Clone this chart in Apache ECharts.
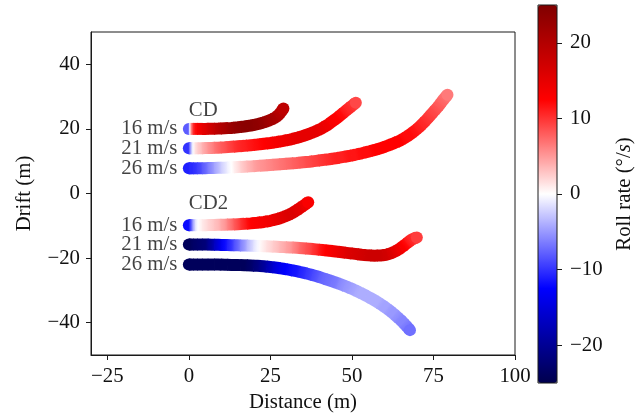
<!DOCTYPE html>
<html><head><meta charset="utf-8">
<script src="https://cdn.jsdelivr.net/npm/echarts@6/dist/echarts.min.js"></script>
<style>html,body{margin:0;padding:0;background:#fff}#c{width:644px;height:418px}</style>
</head><body><div id="c"></div>
<script>
// ---- data (distance m, drift m, roll rate deg/s) ----
const cd16X = [0, 0.4, 1, 2, 3.5, 5, 7, 9, 11, 13, 15, 17, 19, 21, 22.5, 24, 25.3, 26.5, 27.5, 28.3, 29];
const cd16Y = [20, 20, 20, 20, 20, 20, 20.05, 20.1, 20.2, 20.3, 20.5, 20.75, 21.05, 21.45, 21.85, 22.35, 22.9, 23.5, 24.3, 25.3, 26.3];
const cd16R = [-8, 0, 8, 12, 14, 15.5, 17.5, 19.5, 21, 22.5, 23.5, 24, 24, 23.5, 23, 22, 21.5, 21, 20, 19.5, 19];

const cd21X = [0, 0.5, 1, 1.6, 2.4, 3.5, 5, 7, 9, 11, 13, 15, 17, 19, 21, 23, 25, 27, 29, 31, 33, 35, 37, 39, 40.8, 42.5, 44, 45.5, 46.8, 48, 49.1, 50.2, 51.2];
const cd21Y = [14, 14, 14, 14, 14, 14, 14.05, 14.1, 14.2, 14.3, 14.45, 14.6, 14.75, 14.95, 15.15, 15.4, 15.65, 15.95, 16.3, 16.7, 17.2, 17.8, 18.5, 19.3, 20.2, 21.2, 22.3, 23.4, 24.5, 25.5, 26.4, 27.3, 28.1];
const cd21R = [-10, -6, -2, 0.5, 2, 3, 4.5, 6, 7.5, 8.5, 9.5, 10.5, 11, 11.5, 12, 12.5, 13, 13.5, 14, 14.5, 15, 15, 15, 15, 14.5, 14, 13, 12.5, 12, 11, 10.5, 10, 9];

const cd26X = [0, 0.5, 1, 2, 3.5, 5, 7, 9, 11, 13, 15, 17, 19, 21, 23, 25, 27, 29, 31, 33, 35, 37, 39, 41, 43, 45, 47, 49, 51, 53, 55, 57, 59, 61, 63, 64.8, 66.5, 68, 69.4, 70.7, 71.9, 73, 74, 75, 76, 76.9, 77.7, 78.5, 79.3];
const cd26Y = [7.8, 7.8, 7.8, 7.8, 7.8, 7.85, 7.9, 7.95, 8.0, 8.1, 8.2, 8.3, 8.4, 8.55, 8.7, 8.85, 9.0, 9.15, 9.3, 9.45, 9.65, 9.85, 10.1, 10.35, 10.6, 10.9, 11.25, 11.6, 12.0, 12.45, 12.95, 13.5, 14.1, 14.8, 15.6, 16.4, 17.4, 18.4, 19.5, 20.6, 21.8, 23.0, 24.1, 25.3, 26.4, 27.5, 28.6, 29.6, 30.6];
const cd26R = [-11, -10.5, -10.5, -10, -9, -7.5, -5.5, -3.5, -1.5, 0, 1.5, 3, 4, 5, 5.5, 6, 6.5, 7, 7.5, 8, 8.5, 9, 9.5, 10, 10.5, 11, 11, 11.5, 11.5, 12, 12, 12.5, 12.5, 12.5, 12.5, 12.5, 12, 12, 11.5, 11, 10.5, 10, 9.5, 9, 8.5, 8, 7.5, 7, 6.5];

const cd2_16X = [0, 0.5, 1, 1.7, 2.5, 3.5, 5, 7, 9, 11, 13, 15, 17, 19, 21, 23, 25, 27, 28.8, 30.4, 31.8, 33, 34.1, 35.5, 36.6];
const cd2_16Y = [-9.8, -9.8, -9.8, -9.8, -9.8, -9.8, -9.8, -9.75, -9.7, -9.65, -9.6, -9.5, -9.4, -9.25, -9.05, -8.8, -8.45, -7.95, -7.35, -6.7, -6.0, -5.25, -4.5, -3.5, -2.7];
const cd2_16R = [-12, -10, -7, -3, -0.5, 0.5, 1.5, 2.5, 3.5, 5, 7, 9, 11, 12.5, 13, 13.5, 14, 15, 15.5, 16, 16, 15.5, 15, 14, 13];

const cd2_21X = [0, 0.5, 1, 2, 3.5, 5, 7, 9, 11, 13, 15, 17, 19, 21, 23, 25, 27, 29, 31, 33, 35, 37, 39, 41, 43, 45, 47, 49, 51, 53, 55, 57, 58.8, 60.5, 62, 63.3, 64.5, 65.6, 66.6, 67.5, 68.3, 69.1, 69.9];
const cd2_21Y = [-15.8, -15.8, -15.8, -15.8, -15.8, -15.8, -15.85, -15.9, -15.95, -16.0, -16.05, -16.1, -16.15, -16.25, -16.3, -16.4, -16.5, -16.6, -16.7, -16.8, -16.95, -17.1, -17.3, -17.5, -17.7, -17.95, -18.2, -18.45, -18.7, -18.95, -19.15, -19.25, -19.2, -18.95, -18.5, -17.9, -17.2, -16.4, -15.6, -14.9, -14.3, -13.9, -13.6];
const cd2_21R = [-24, -24, -23.5, -23, -22.5, -22, -19, -15, -12, -10, -7.5, -5, -2.5, -0.5, 1, 2, 3, 4, 5, 6.5, 8, 9, 10.5, 12, 13, 14, 15, 16, 16.5, 17, 17.5, 17.5, 17.5, 17, 16, 15, 14, 13, 12, 11, 10.5, 10, 9.5];

const cd2_26X = [0, 0.5, 1, 2, 3.5, 5, 7, 9, 11, 13, 15, 17, 19, 21, 23, 25, 27, 29, 31, 33, 35, 37, 39, 41, 43, 45, 47, 48.8, 50.5, 52.1, 53.7, 55.2, 56.6, 58, 59.3, 60.5, 61.7, 62.8, 63.8, 64.8, 65.7, 66.5, 67.2, 67.8];
const cd2_26Y = [-22, -22, -22, -22, -22, -22, -22, -22, -22.05, -22.1, -22.15, -22.2, -22.3, -22.4, -22.55, -22.75, -23.0, -23.3, -23.65, -24.05, -24.5, -25.0, -25.55, -26.2, -26.85, -27.55, -28.3, -29.0, -29.75, -30.5, -31.3, -32.1, -32.9, -33.75, -34.6, -35.45, -36.35, -37.25, -38.15, -39.05, -39.95, -40.8, -41.6, -42.3];
const cd2_26R = [-24, -24, -24, -24, -24, -24, -24, -24, -24, -24, -24, -24, -23, -21.5, -19.5, -17, -14.5, -13, -12, -11.5, -10.5, -9.5, -8.5, -7.5, -7, -6.5, -5.5, -5, -4.5, -4, -4, -4, -4, -4, -4.5, -4.5, -5, -5, -5.5, -6, -6, -6.5, -7, -7];

const speedLabels = ['16 m/s', '21 m/s', '26 m/s', '16 m/s', '21 m/s', '26 m/s'];
const xTicks = [-25, 0, 25, 50, 75, 100];
const yTicks = [-40, -20, 0, 20, 40];
const cbTicks = [-20, -10, 0, 10, 20];
const rollRange = [-25, 25];

const tracks = [
  [cd16X, cd16Y, cd16R], [cd21X, cd21Y, cd21R], [cd26X, cd26Y, cd26R],
  [cd2_16X, cd2_16Y, cd2_16R], [cd2_21X, cd2_21Y, cd2_21R], [cd2_26X, cd2_26Y, cd2_26R]
];

const FONT = "'Liberation Serif','Times New Roman',serif";
const FS = 20.8;
const TXT = '#111';
const BAND = 12;
const SEISMIC = ['#00004d', '#0000ff', '#ffffff', '#ff0000', '#800000'];
const minus = v => String(v).replace('-', '\u2212');

const chart = echarts.init(document.getElementById('c'), null, {renderer: 'canvas'});

// same colour scale as the visualMap, used to blend towards the neighbouring points
const cmap = v => echarts.color.lerp(
  Math.max(0, Math.min(1, (v - rollRange[0]) / (rollRange[1] - rollRange[0]))), SEISMIC);

function extend(p, q, ext) {
  const dx = q[0] - p[0], dy = q[1] - p[1];
  const L = Math.hypot(dx, dy);
  if (L < 1e-6) return q;
  return [q[0] + dx / L * ext, q[1] + dy / L * ext];
}

const trackSeries = tracks.map(t => ({
  type: 'custom', xAxisIndex: 0, yAxisIndex: 0, silent: true, clip: false,
  dimensions: ['x', 'y', 'roll'],
  encode: {x: 0, y: 1},
  data: t[0].map((x, i) => [x, t[1][i], t[2][i]]),
  renderItem: (params, api) => {
    const i = params.dataIndex, n = t[0].length;
    const color = api.visual('color');
    const r = t[2][i];
    const p = api.coord([t[0][i], t[1][i]]);
    let a = p, b = p, ca = color, cb = color;
    if (i > 0) {
      const pv = api.coord([t[0][i - 1], t[1][i - 1]]);
      a = extend(p, [(pv[0] + p[0]) / 2, (pv[1] + p[1]) / 2], 0.8);
      ca = cmap((t[2][i - 1] + r) / 2);
    }
    if (i < n - 1) {
      const nx = api.coord([t[0][i + 1], t[1][i + 1]]);
      b = [(nx[0] + p[0]) / 2, (nx[1] + p[1]) / 2];
      cb = cmap((t[2][i + 1] + r) / 2);
    }
    const children = [];
    const dx = b[0] - a[0], dy = b[1] - a[1], L2 = dx * dx + dy * dy;
    if (L2 > 1e-6) {
      let off = ((p[0] - a[0]) * dx + (p[1] - a[1]) * dy) / L2;
      off = Math.max(0.001, Math.min(0.999, off));
      children.push({
        type: 'polyline',
        shape: {points: [a, p, b]},
        style: {
          stroke: {type: 'linear', global: true, x: a[0], y: a[1], x2: b[0], y2: b[1],
                   colorStops: [{offset: 0, color: ca}, {offset: off, color: color}, {offset: 1, color: cb}]},
          lineWidth: BAND, lineCap: 'butt', lineJoin: 'round', fill: null
        }
      });
    }
    if (i === 0 || i === n - 1) {
      children.push({type: 'circle', shape: {cx: p[0], cy: p[1], r: BAND / 2}, style: {fill: color}});
    }
    return {type: 'group', children};
  }
}));

const option = {
  animation: false,
  textStyle: {fontFamily: FONT},
  grid: [
    {left: 91, top: 32, width: 424, height: 324, show: true, borderColor: '#1a1a1a', borderWidth: 1, containLabel: false},
    {left: 538, top: 5, width: 19, height: 378, show: true, borderColor: '#1a1a1a', borderWidth: 1, z: 10, backgroundColor: 'transparent'}
  ],
  xAxis: [
    {type: 'value', gridIndex: 0, min: -30, max: 100,
     name: 'Distance (m)', nameLocation: 'middle', nameGap: 37,
     nameTextStyle: {fontSize: FS, color: TXT, fontFamily: FONT},
     axisLine: {show: true, onZero: false, lineStyle: {color: '#1a1a1a', width: 1}},
     axisTick: {show: true, length: 5, customValues: xTicks, lineStyle: {color: '#1a1a1a'}},
     axisLabel: {show: true, customValues: xTicks, formatter: minus, fontSize: FS, color: TXT, margin: 11, fontFamily: FONT},
     splitLine: {show: false}},
    {type: 'value', gridIndex: 1, min: 0, max: 1, show: false}
  ],
  yAxis: [
    {type: 'value', gridIndex: 0, min: -50, max: 50,
     name: 'Drift (m)', nameLocation: 'middle', nameGap: 56, nameRotate: 90,
     nameTextStyle: {fontSize: FS, color: TXT, fontFamily: FONT},
     axisLine: {show: true, onZero: false, lineStyle: {color: '#1a1a1a', width: 1}},
     axisTick: {show: true, length: 5, customValues: yTicks, lineStyle: {color: '#1a1a1a'}},
     axisLabel: {show: true, customValues: yTicks, formatter: minus, fontSize: FS, color: TXT, margin: 11, fontFamily: FONT},
     splitLine: {show: false}},
    {type: 'value', gridIndex: 1, position: 'right', min: rollRange[0], max: rollRange[1], z: 10,
     name: '{a|Roll rate (°/}{b|s}{a|)}', nameLocation: 'middle', nameGap: 57, nameRotate: 90,
     nameTextStyle: {fontSize: FS, color: TXT, fontFamily: FONT,
       rich: {a: {fontSize: FS, color: TXT, fontFamily: FONT}, b: {fontSize: FS, color: TXT, fontFamily: FONT, fontStyle: 'italic'}}},
     axisLine: {show: false, onZero: false},
     axisTick: {show: true, length: 5, customValues: cbTicks, lineStyle: {color: '#1a1a1a'}},
     axisLabel: {show: true, customValues: cbTicks, formatter: minus, fontSize: FS, color: TXT, margin: 13, fontFamily: FONT},
     splitLine: {show: false}}
  ],
  visualMap: {
    type: 'continuous', min: rollRange[0], max: rollRange[1], dimension: 2,
    seriesIndex: [0, 1, 2, 3, 4, 5],
    inRange: {color: SEISMIC},
    calculable: false, hoverLink: false, realtime: false,
    left: 538, top: 5, itemWidth: 19, itemHeight: 378, padding: 0,
    text: null, orient: 'vertical'
  },
  series: trackSeries.concat([
    {type: 'scatter', silent: true, symbolSize: 0, xAxisIndex: 0, yAxisIndex: 0,
     data: tracks.map((t, i) => ({value: [t[0][0], t[1][0]], name: speedLabels[i]})),
     label: {show: true, position: 'left', distance: 11.5, formatter: p => p.name,
             fontSize: FS, color: TXT, fontFamily: FONT}},
    {type: 'scatter', silent: true, symbolSize: 0, xAxisIndex: 0, yAxisIndex: 0,
     data: [{value: [0, 25.6], name: 'CD'}, {value: [0, -3.1], name: 'CD2'}],
     label: {show: true, position: 'right', distance: 0, formatter: p => p.name,
             fontSize: FS, color: TXT, fontFamily: FONT}}
  ])
};
chart.setOption(option);
</script></body></html>
